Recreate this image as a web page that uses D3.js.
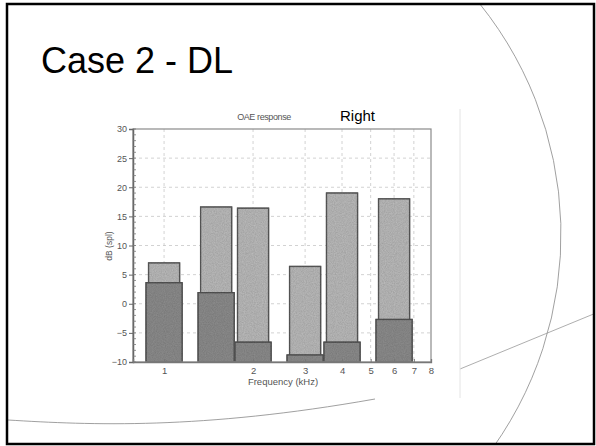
<!DOCTYPE html>
<html lang="en">
<head>
    <meta charset="UTF-8">
    <title>Case 2 - DL</title>
    <style>
        body {
            margin: 0;
            background: #ffffff;
            overflow: hidden;
        }
        svg text {
            font-family: Arial, "Liberation Sans", sans-serif;
        }
    </style>
</head>
<body>
    <svg id="slide" width="596" height="446"></svg>
    <script src="https://d3js.org/d3.v7.min.js"></script>
    <script>
        // band centre frequencies (kHz) and levels (dB spl)
        const freqs = [1, 1.5, 2, 3, 4, 6];
        const response = [7.0, 16.6, 16.4, 6.4, 19.0, 18.0];
        const noiseFloor = [3.6, 1.9, -6.6, -8.8, -6.6, -2.7];

        const xTicks = [1, 2, 3, 4, 5, 6, 7, 8];
        const yTicks = [-10, -5, 0, 5, 10, 15, 20, 25, 30];

        const svg = d3.select("#slide");

        svg.append("defs").append("clipPath")
            .attr("id", "slideClip")
            .append("rect")
            .attr("x", 7).attr("y", 4)
            .attr("width", 587).attr("height", 440);

        // decorative template lines
        const deco = svg.append("g").attr("clip-path", "url(#slideClip)");

        const arcPath = d3.path();
        arcPath.arc(193, 234.5, 368, -0.72, 0.66);
        deco.append("path")
            .attr("d", arcPath.toString())
            .attr("fill", "none")
            .attr("stroke", "#888")
            .attr("stroke-width", 0.8);

        deco.append("line")
            .attr("x1", 460).attr("y1", 369)
            .attr("x2", 596).attr("y2", 313)
            .attr("stroke", "#999")
            .attr("stroke-width", 0.8);

        deco.append("path")
            .attr("d", "M8,420 C90,425 200,430 375,399")
            .attr("fill", "none")
            .attr("stroke", "#888")
            .attr("stroke-width", 0.8);

        // slide frame
        svg.append("rect")
            .attr("x", 7).attr("y", 4)
            .attr("width", 587).attr("height", 440)
            .attr("fill", "none")
            .attr("stroke", "#000")
            .attr("stroke-width", 2.5);

        // right edge of the scanned picture
        svg.append("line")
            .attr("x1", 460).attr("y1", 109)
            .attr("x2", 460).attr("y2", 398)
            .attr("stroke", "#e4e4e4")
            .attr("stroke-width", 1);

        svg.append("text")
            .attr("x", 41).attr("y", 73)
            .attr("font-size", 36)
            .attr("fill", "#000")
            .text("Case 2 - DL");

        // chart
        const x = d3.scaleLog()
            .domain([0.785, 8])
            .range([133, 431]);

        const y = d3.scaleLinear()
            .domain([-10, 30])
            .range([362, 129]);

        const grain = svg.append("defs").append("filter")
            .attr("id", "grain");
        grain.append("feTurbulence")
            .attr("type", "fractalNoise")
            .attr("baseFrequency", 0.9)
            .attr("numOctaves", 2)
            .attr("result", "noise");
        grain.append("feColorMatrix")
            .attr("in", "noise")
            .attr("type", "matrix")
            .attr("values", "0 0 0 0 0  0 0 0 0 0  0 0 0 0 0  0 0 0 0.35 0")
            .attr("result", "dots");
        grain.append("feComposite")
            .attr("in", "dots")
            .attr("in2", "SourceGraphic")
            .attr("operator", "atop")
            .attr("result", "speck");
        grain.append("feMerge").selectAll("feMergeNode")
            .data(["SourceGraphic", "speck"])
            .join("feMergeNode")
            .attr("in", d => d);

        const g = svg.append("g");

        // grid
        g.selectAll(".vgrid")
            .data(xTicks.slice(0, -1))
            .join("line")
            .attr("x1", d => x(d)).attr("x2", d => x(d))
            .attr("y1", y(30)).attr("y2", y(-10))
            .attr("stroke", "#c6c6c6")
            .attr("stroke-width", 0.8)
            .attr("stroke-dasharray", "3,3");

        g.selectAll(".hgrid")
            .data(yTicks.slice(1, -1))
            .join("line")
            .attr("x1", x.range()[0]).attr("x2", x.range()[1])
            .attr("y1", d => y(d)).attr("y2", d => y(d))
            .attr("stroke", "#c6c6c6")
            .attr("stroke-width", 0.8)
            .attr("stroke-dasharray", "3,3");

        const bars = freqs.map((f, i) => ({ f, resp: response[i], noise: noiseFloor[i] }));

        g.selectAll(".resp")
            .data(bars)
            .join("rect")
            .attr("x", d => x(d.f) - 15.5)
            .attr("width", 31)
            .attr("y", d => y(d.resp))
            .attr("height", d => y(-10) - y(d.resp))
            .attr("fill", "#bdbdbd")
            .attr("stroke", "#5a5a5a")
            .attr("stroke-width", 1.3)
            .attr("filter", "url(#grain)");

        g.selectAll(".noise")
            .data(bars)
            .join("rect")
            .attr("x", d => x(d.f) - 18)
            .attr("width", 36)
            .attr("y", d => y(d.noise))
            .attr("height", d => y(-10) - y(d.noise))
            .attr("fill", "#8e8e8e")
            .attr("stroke", "#555")
            .attr("stroke-width", 1.3)
            .attr("filter", "url(#grain)");

        // frame
        g.append("rect")
            .attr("x", x.range()[0]).attr("y", y(30))
            .attr("width", x.range()[1] - x.range()[0])
            .attr("height", y(-10) - y(30))
            .attr("fill", "none")
            .attr("stroke", "#8a8a8a")
            .attr("stroke-width", 1.2);

        // y axis with 1 dB minor ticks
        const yAxis = g.append("g")
            .attr("transform", `translate(${x.range()[0]},0)`)
            .call(d3.axisLeft(y).tickValues(yTicks).tickSize(4).tickPadding(2));
        yAxis.select(".domain").attr("stroke", "#666").attr("stroke-width", 1.5);
        yAxis.selectAll(".tick line").attr("stroke", "#666");
        yAxis.selectAll("text")
            .attr("font-size", 9)
            .attr("fill", "#555")
            .attr("font-family", "Arial, 'Liberation Sans', sans-serif");

        g.selectAll(".yminor")
            .data(d3.range(-10, 31))
            .join("line")
            .attr("x1", x.range()[0]).attr("x2", x.range()[0] + 3)
            .attr("y1", d => y(d)).attr("y2", d => y(d))
            .attr("stroke", "#777")
            .attr("stroke-width", 0.8);

        // x axis
        const xAxis = g.append("g")
            .attr("transform", `translate(0,${y(-10)})`)
            .call(d3.axisBottom(x).tickValues(xTicks).tickFormat(d3.format("d")).tickSize(-3).tickPadding(5));
        xAxis.select(".domain").attr("stroke", "#777").attr("stroke-width", 1.3);
        xAxis.selectAll(".tick line").attr("stroke", "#777");
        xAxis.selectAll("text")
            .attr("font-size", 9.5)
            .attr("fill", "#555")
            .attr("font-family", "Arial, 'Liberation Sans', sans-serif");

        svg.append("text")
            .attr("x", 283).attr("y", 385)
            .attr("text-anchor", "middle")
            .attr("font-size", 9.5)
            .attr("fill", "#555")
            .text("Frequency (kHz)");

        svg.append("text")
            .attr("transform", "translate(112,246) rotate(-90)")
            .attr("text-anchor", "middle")
            .attr("font-size", 8.5)
            .attr("fill", "#555")
            .text("dB (spl)");

        svg.append("text")
            .attr("x", 264).attr("y", 120)
            .attr("text-anchor", "middle")
            .attr("font-size", 9)
            .attr("fill", "#555")
            .attr("letter-spacing", -0.4)
            .text("OAE response");

        svg.append("text")
            .attr("x", 357.5).attr("y", 120.5)
            .attr("text-anchor", "middle")
            .attr("font-size", 15)
            .attr("fill", "#000")
            .text("Right");
    </script>
</body>
</html>
